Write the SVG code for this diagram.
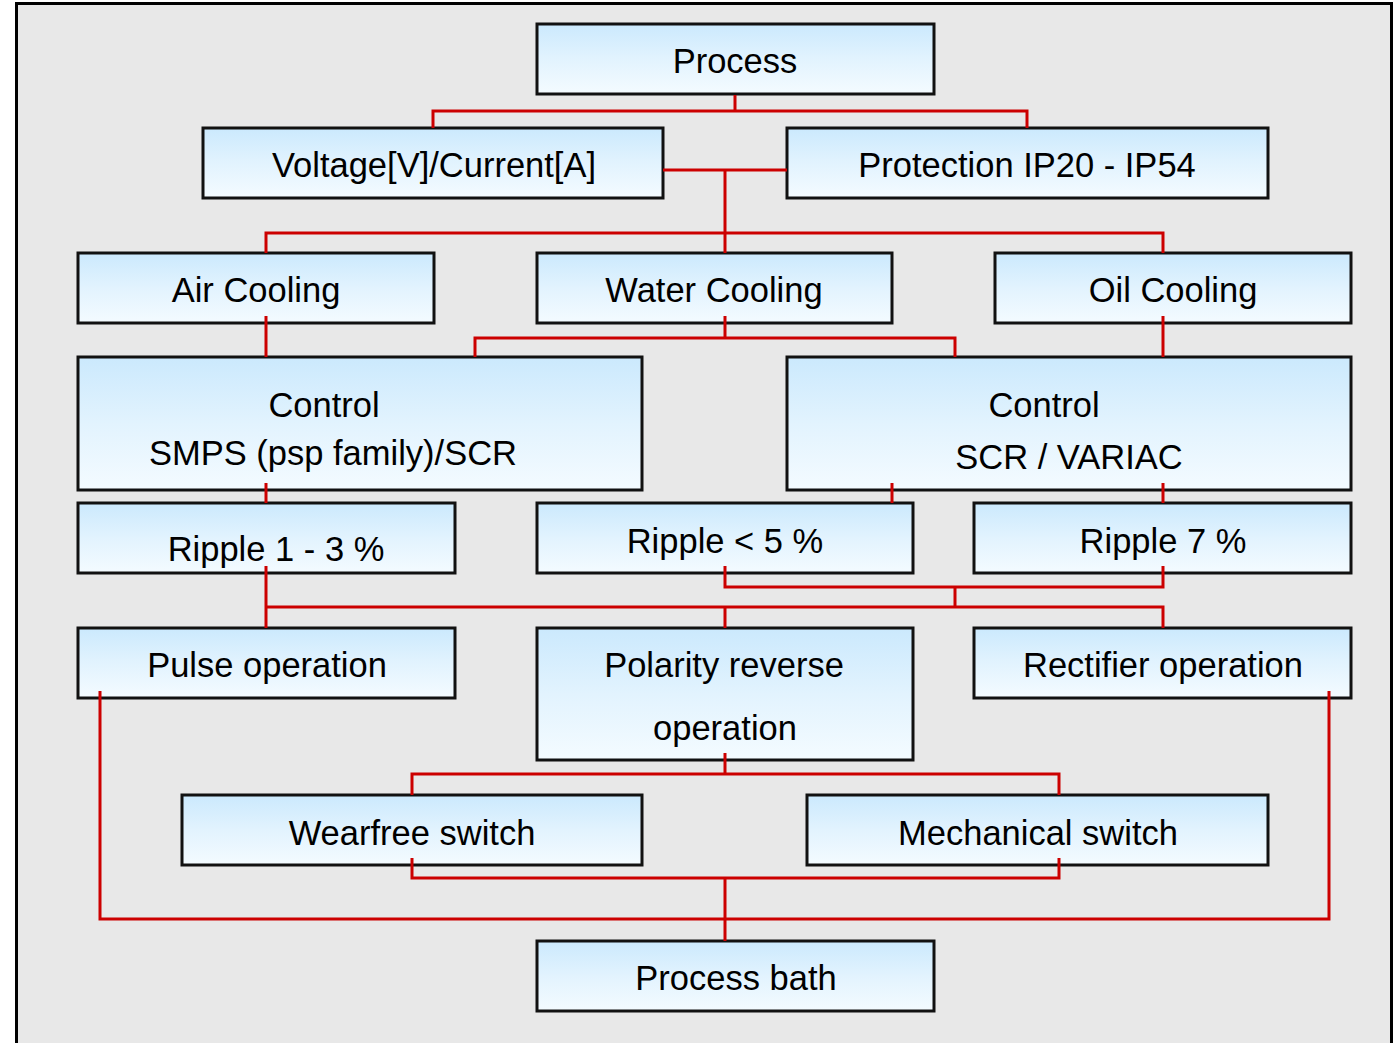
<svg xmlns="http://www.w3.org/2000/svg" width="1396" height="1043" viewBox="0 0 1396 1043">
<defs>
<linearGradient id="g" x1="0" y1="0" x2="0" y2="1">
<stop offset="0" stop-color="#cbe9fd"/>
<stop offset="0.5" stop-color="#e2f3fe"/>
<stop offset="1" stop-color="#f4fbff"/>
</linearGradient>
<style>
.b{fill:url(#g);stroke:#111;stroke-width:3}
.t{font-family:"Liberation Sans",Arial,sans-serif;font-size:34.5px;fill:#000;text-anchor:middle}
.c{fill:none;stroke:#cc0000;stroke-width:3}
</style>
</defs>
<rect x="0" y="0" width="1396" height="1043" fill="#fff"/>
<rect x="16.5" y="3.5" width="1375" height="1060" fill="#e8e8e8" stroke="#000" stroke-width="3"/>

<g id="process"><rect class="b" x="537" y="24" width="397" height="70"/><text class="t" x="735" y="73">Process</text></g>
<g id="voltage"><rect class="b" x="203" y="128" width="460" height="70"/><text class="t" x="434" y="177">Voltage[V]/Current[A]</text></g>
<g id="protection"><rect class="b" x="787" y="128" width="481" height="70"/><text class="t" x="1027" y="177">Protection IP20 - IP54</text></g>
<g id="air"><rect class="b" x="78" y="253" width="356" height="70"/><text class="t" x="256" y="302">Air Cooling</text></g>
<g id="water"><rect class="b" x="537" y="253" width="355" height="70"/><text class="t" x="714" y="302">Water Cooling</text></g>
<g id="oil"><rect class="b" x="995" y="253" width="356" height="70"/><text class="t" x="1173" y="302">Oil Cooling</text></g>
<g id="control-smps"><rect class="b" x="78" y="357" width="564" height="133"/><text class="t" x="324" y="417">Control</text><text class="t" x="333" y="465">SMPS (psp family)/SCR</text></g>
<g id="control-scr"><rect class="b" x="787" y="357" width="564" height="133"/><text class="t" x="1044" y="417">Control</text><text class="t" x="1069" y="469">SCR / VARIAC</text></g>
<g id="ripple13"><rect class="b" x="78" y="503" width="377" height="70"/><text class="t" x="276" y="561">Ripple 1 - 3 %</text></g>
<g id="ripple5"><rect class="b" x="537" y="503" width="376" height="70"/><text class="t" x="725" y="553">Ripple &lt; 5 %</text></g>
<g id="ripple7"><rect class="b" x="974" y="503" width="377" height="70"/><text class="t" x="1163" y="553">Ripple 7 %</text></g>
<g id="pulse"><rect class="b" x="78" y="628" width="377" height="70"/><text class="t" x="267" y="677">Pulse operation</text></g>
<g id="polarity"><rect class="b" x="537" y="628" width="376" height="132"/><text class="t" x="724" y="677">Polarity reverse</text><text class="t" x="725" y="740">operation</text></g>
<g id="rectifier"><rect class="b" x="974" y="628" width="377" height="70"/><text class="t" x="1163" y="677">Rectifier operation</text></g>
<g id="wearfree"><rect class="b" x="182" y="795" width="460" height="70"/><text class="t" x="412" y="845">Wearfree switch</text></g>
<g id="mechanical"><rect class="b" x="807" y="795" width="461" height="70"/><text class="t" x="1038" y="845">Mechanical switch</text></g>
<g id="bath"><rect class="b" x="537" y="941" width="397" height="70"/><text class="t" x="736" y="990">Process bath</text></g>

<g id="connectors">
<path class="c" d="M735 95V111M433 128V111H1027V128"/>
<path class="c" d="M663 170H787M725 170V253M266 253V233H1163V253"/>
<path class="c" d="M266 316V357M1163 316V357"/>
<path class="c" d="M725 316V338M475 357V338H955V357"/>
<path class="c" d="M266 483V503M892 483V503M1163 483V503"/>
<path class="c" d="M725 566V587H1163V566M955 587V607"/>
<path class="c" d="M266 566V628M266 607H1163V628M725 607V628"/>
<path class="c" d="M725 753V774M412 795V774H1059V795"/>
<path class="c" d="M412 858V878H1059V858M725 878V941"/>
<path class="c" d="M100 691V919H1329V691"/>
</g>
</svg>
